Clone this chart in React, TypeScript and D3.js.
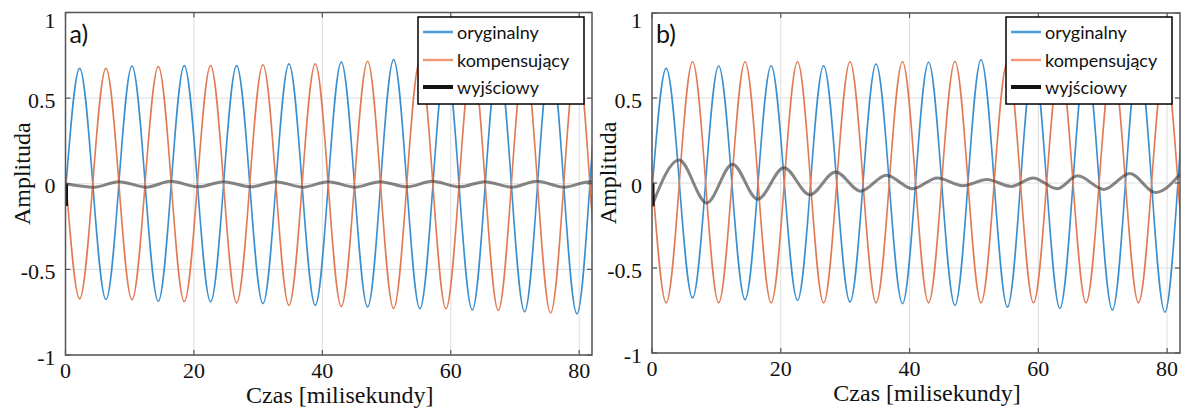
import React from "react";
import * as d3 from "d3";

// ---- data ----
const xTicks = [0, 20, 40, 60, 80];
const yTicks = [-1, -0.5, 0, 0.5, 1];
const yTickLabels = ["-1", "-0.5", "0", "0.5", "1"];
const legendLabels = ["oryginalny", "kompensujący", "wyjściowy"];

// times (ms) of the successive extrema of the two sinusoids
const extremaTimes = [-6.1, -2.0, 2.2, 6.3, 10.35, 14.45, 18.5, 22.6, 26.65, 30.75, 34.8, 38.9, 42.95, 47.05, 51.1, 55.2, 59.25, 63.35, 67.4, 71.5, 75.55, 79.65, 83.7, 87.8];
const originalValues = [0.67, -0.67, 0.674, -0.676, 0.688, -0.686, 0.69, -0.69, 0.69, -0.7, 0.7, -0.71, 0.71, -0.72, 0.725, -0.73, 0.72, -0.737, 0.735, -0.748, 0.745, -0.76, 0.76, -0.76];
const compensatingA = [-0.67, 0.67, -0.672, 0.674, -0.678, 0.685, -0.688, 0.69, -0.696, 0.695, -0.71, 0.7, -0.716, 0.715, -0.728, 0.72, -0.73, 0.73, -0.74, 0.74, -0.755, 0.75, -0.76, 0.76];
const compensatingB = [-0.705, 0.71, -0.705, 0.713, -0.705, 0.713, -0.705, 0.713, -0.705, 0.713, -0.705, 0.713, -0.705, 0.715, -0.705, 0.715, -0.705, 0.715, -0.705, 0.715, -0.705, 0.715, -0.705, 0.715];

// output (wyjściowy) extrema
const outputATimes = [0, 4.5, 8.3, 12.6, 16.4, 20.7, 24.6, 28.9, 32.7, 37.0, 40.9, 45.1, 49.0, 53.2, 57.1, 61.4, 65.3, 69.5, 73.4, 77.7, 81.6, 85.5];
const outputAValues = [0, -0.02, 0.012, -0.02, 0.014, -0.018, 0.012, -0.018, 0.012, -0.02, 0.012, -0.02, 0.012, -0.018, 0.014, -0.018, 0.012, -0.02, 0.014, -0.02, 0.012, -0.02];
const outputBTimes = [0, 4.2, 8.5, 12.5, 16.4, 20.5, 24.5, 28.5, 32.4, 36.4, 40.5, 44.3, 48.3, 52.0, 55.8, 59.2, 62.9, 66.1, 70.2, 74.2, 78.2, 82.2];
const outputBValues = [-0.135, 0.135, -0.117, 0.111, -0.095, 0.089, -0.069, 0.065, -0.048, 0.046, -0.034, 0.03, -0.016, 0.02, -0.02, 0.03, -0.034, 0.042, -0.038, 0.056, -0.056, 0.06];
const outputStartA = -0.13;
const outputStartB = -0.137;

const panels = [
  { id: "a", label: "a)", x0: 65.5, x1: 592, yTop: 12.5, yBot: 355, comp: compensatingA, outT: outputATimes, outV: outputAValues, start: outputStartA },
  { id: "b", label: "b)", x0: 652, x1: 1180, yTop: 13, yBot: 353, comp: compensatingB, outT: outputBTimes, outV: outputBValues, start: outputStartB },
];

const BLUE = "#3a8fd0";
const ORANGE = "#e27b55";
const SERIF = "'Liberation Serif', 'Times New Roman', serif";
const SANS = "Lato, 'Liberation Sans', Arial, sans-serif";

function Panel({ p }: { p: typeof panels[number] }) {
  const x = d3.scaleLinear().domain([0, 82]).range([p.x0, p.x1]);
  const y = d3.scaleLinear().domain([-1, 1]).range([p.yBot, p.yTop]);
  const line = d3
    .line<[number, number]>()
    .x((d) => x(d[0]))
    .y((d) => y(d[1]))
    .curve(d3.curveMonotoneX);
  const blue = line(extremaTimes.map((t, i) => [t, originalValues[i]] as [number, number]));
  const orange = line(extremaTimes.map((t, i) => [t, p.comp[i]] as [number, number]));
  const out = line(p.outT.map((t, i) => [t, p.outV[i]] as [number, number]));
  const clipId = "clip-" + p.id;
  const w = p.x1 - p.x0;
  const h = p.yBot - p.yTop;
  const axisColor = "#555";
  const lgX = p.x1 - 174;
  const lgY = 17;
  const lgRows = [15, 43, 70];
  const lgColors = ["#4b9cd8", "#f09a78", "#111"];
  const lgWidths = [2.5, 2.5, 4];
  return (
    <g>
      <defs>
        <clipPath id={clipId}>
          <rect x={p.x0} y={p.yTop} width={w} height={h} />
        </clipPath>
      </defs>
      {/* grid */}
      {xTicks.map((t) => (
        <line key={"gx" + t} x1={x(t)} x2={x(t)} y1={p.yTop} y2={p.yBot} stroke="#dedede" strokeWidth={1} />
      ))}
      {yTicks.map((t) => (
        <line key={"gy" + t} x1={p.x0} x2={p.x1} y1={y(t)} y2={y(t)} stroke="#dedede" strokeWidth={1} />
      ))}
      {/* data */}
      <g clipPath={`url(#${clipId})`}>
        <path d={blue || ""} fill="none" stroke={BLUE} strokeWidth={1.6} />
        <path d={orange || ""} fill="none" stroke={ORANGE} strokeWidth={1.6} />
        <path d={out || ""} fill="none" stroke="#3a3a3a" strokeOpacity={0.62} strokeWidth={3} />
        <line x1={x(0) + 1} x2={x(0) + 1} y1={y(0)} y2={y(p.start)} stroke="#111" strokeWidth={3} />
      </g>
      {/* box */}
      <rect x={p.x0} y={p.yTop} width={w} height={h} fill="none" stroke={axisColor} strokeWidth={1.5} />
      {xTicks.map((t) => (
        <g key={"tx" + t}>
          <line x1={x(t)} x2={x(t)} y1={p.yBot} y2={p.yBot - 5} stroke={axisColor} strokeWidth={1.2} />
          <line x1={x(t)} x2={x(t)} y1={p.yTop} y2={p.yTop + 5} stroke={axisColor} strokeWidth={1.2} />
          <text x={x(t)} y={p.yBot + 23} textAnchor="middle" fontFamily={SERIF} fontSize={22} fill="#111">
            {t}
          </text>
        </g>
      ))}
      {yTicks.map((t, i) => (
        <g key={"ty" + t}>
          <line x1={p.x0} x2={p.x0 + 5} y1={y(t)} y2={y(t)} stroke={axisColor} strokeWidth={1.2} />
          <line x1={p.x1} x2={p.x1 - 5} y1={y(t)} y2={y(t)} stroke={axisColor} strokeWidth={1.2} />
          <text
            x={p.x0 - 10}
            y={Math.max(y(t) + 2, 20)}
            textAnchor="end"
            dominantBaseline="central"
            fontFamily={SERIF}
            fontSize={22}
            fill="#111"
          >
            {yTickLabels[i]}
          </text>
        </g>
      ))}
      {/* axis titles */}
      <text x={(p.x0 + p.x1) / 2 + 11} y={p.yBot + 48} textAnchor="middle" fontFamily={SERIF} fontSize={24} fill="#111">
        Czas [milisekundy]
      </text>
      <text
        transform={`translate(${p.x0 - 44},${(p.yTop + p.yBot) / 2 - 10}) rotate(-90)`}
        textAnchor="middle"
        dominantBaseline="central"
        fontFamily={SERIF}
        fontSize={24}
        fill="#111"
      >
        Amplituda
      </text>
      {/* panel label */}
      <text x={p.x0 + 4} y={p.yTop + 30} fontFamily={SANS} fontSize={25} fill="#111">
        {p.label}
      </text>
      {/* legend */}
      <rect x={lgX} y={lgY} width={166} height={87} fill="#fff" stroke="#000" strokeWidth={1.5} />
      {legendLabels.map((lab, i) => (
        <g key={lab}>
          <line
            x1={lgX + 5}
            x2={lgX + 35}
            y1={lgY + lgRows[i]}
            y2={lgY + lgRows[i]}
            stroke={lgColors[i]}
            strokeWidth={lgWidths[i]}
          />
          <text x={lgX + 39} y={lgY + lgRows[i] + 2} dominantBaseline="middle" fontFamily={SANS} fontSize={18} fill="#111">
            {lab}
          </text>
        </g>
      ))}
    </g>
  );
}

export default function App() {
  return (
    <svg
      width={1188}
      height={408}
      style={{ position: "absolute", left: 0, top: 0, display: "block", background: "#fff" }}
    >
      <rect x={0} y={0} width={1188} height={408} fill="#fff" />
      {panels.map((p) => (
        <Panel key={p.id} p={p} />
      ))}
    </svg>
  );
}
